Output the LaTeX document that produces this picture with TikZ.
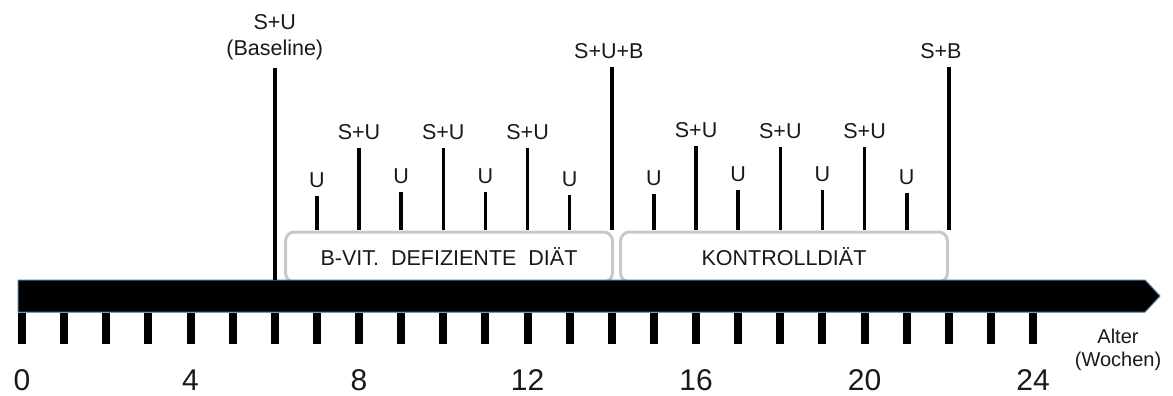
\documentclass[tikz,border=0pt]{standalone}
\usepackage{fontspec}
\setmainfont{Liberation Sans}
\definecolor{barblue}{RGB}{65,113,156}
\definecolor{boxgray}{RGB}{200,200,200}
\definecolor{txt}{RGB}{25,25,25}
\begin{document}
\begin{tikzpicture}[x=1pt,y=-1pt,
  lbl/.style={text=txt,font=\fontsize{21.5}{26}\selectfont,inner sep=1pt,anchor=south},
  num/.style={text=txt,font=\fontsize{30}{33}\selectfont,inner sep=0pt},
  phase/.style={draw=boxgray,line width=3pt,rounded corners=9pt,fill=white,
    minimum height=50pt,text=txt,font=\fontsize{21.5}{25}\selectfont},
  mline/.style={line width=3.6pt},
  tick/.style={fill=black}]
\useasboundingbox (0,0) rectangle (1173,396);

% diet phases (their lower edge is hidden under the time bar)
\node[phase,minimum width=327pt] (def) at (449,257) {B-VIT.\ \ DEFIZIENTE\ \ DIÄT};
\node[phase,minimum width=327pt] (ctl) at (784,257) {KONTROLLDIÄT};

% time axis
\draw[fill=black,draw=barblue,line width=1pt]
  (18,280) -- (1145,280) -- (1160,296) -- (1145,312) -- (18,312) -- cycle;

% weekly ticks and labels
\foreach \w in {0,...,24}{
  \fill[tick] ({22+42.13*\w-4},313) rectangle ++(8,31);
}
\foreach \w in {0,4,...,24}{
  \node[num] (n\w) at ({22+42.13*\w},380) {\w};
}
\node[text=txt,font=\fontsize{20}{23}\selectfont,align=center] (age) at (1118,350) {Alter\\(Wochen)};

% sampling points
\coordinate (b0) at ({22+42.13*6},68);
\coordinate (b1) at ({22+42.13*6},280);
\draw[mline] (b0) -- (b1);
\node[lbl,align=center] (base) at (b0) [yshift=7pt] {S+U\\(Baseline)};

\foreach \w/\top/\txt in {7/196/U,8/148/S+U,9/192/U,10/148/S+U,11/192/U,12/148/S+U,13/195/U,
                         15/194/U,16/146/S+U,17/190/U,18/147/S+U,19/190/U,20/147/S+U,21/193/U}{
  \coordinate (t\w) at ({22+42.13*\w},\top);
  \coordinate (e\w) at ({22+42.13*\w},230);
  \draw[mline] (t\w) -- (e\w);
  \node[lbl] (l\w) at (t\w) [yshift=7pt] {\txt};
}

\coordinate (t14) at ({22+42.13*14},67);
\coordinate (e14) at ({22+42.13*14},230);
\draw[mline] (t14) -- (e14);
\node[lbl] (l14) at (t14) [yshift=7pt,xshift=-3pt] {S+U+B};

\coordinate (t22) at ({22+42.13*22},67);
\coordinate (e22) at ({22+42.13*22},230);
\draw[mline] (t22) -- (e22);
\node[lbl] (l22) at (t22) [yshift=7pt,xshift=-8pt] {S+B};
\end{tikzpicture}
\end{document}
